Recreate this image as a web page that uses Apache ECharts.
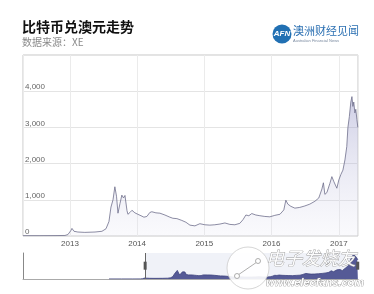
<!DOCTYPE html>
<html><head><meta charset="utf-8">
<script src="https://cdn.jsdelivr.net/npm/echarts@6/dist/echarts.min.js"></script>
<style>html,body{margin:0;padding:0;background:#fff}#c{width:374px;height:294px}</style>
</head><body><div id="c"></div>
<script>
var titleText = '比特币兑澳元走势';
var sourceText = '数据来源：XE';
var dates = ['2012-04-21','2012-07-22','2012-10-12','2012-12-05','2012-12-21','2013-01-06','2013-01-12','2013-01-23','2013-02-13','2013-03-23','2013-05-17','2013-06-24','2013-07-16','2013-08-01','2013-08-12','2013-08-23','2013-09-02','2013-09-11','2013-09-19','2013-09-30','2013-10-10','2013-10-19','2013-10-27','2013-11-07','2013-11-12','2013-11-23','2013-12-04','2013-12-20','2014-01-05','2014-01-22','2014-02-07','2014-02-23','2014-03-11','2014-03-22','2014-04-13','2014-05-05','2014-06-01','2014-06-28','2014-07-14','2014-08-05','2014-09-01','2014-09-23','2014-10-15','2014-11-11','2014-12-08','2015-01-04','2015-01-31','2015-02-27','2015-03-27','2015-04-23','2015-05-20','2015-06-16','2015-07-13','2015-07-30','2015-08-15','2015-08-31','2015-09-16','2015-10-08','2015-10-30','2015-11-26','2015-12-23','2016-01-19','2016-02-16','2016-03-08','2016-03-19','2016-03-30','2016-04-15','2016-05-07','2016-06-03','2016-06-30','2016-07-27','2016-08-24','2016-09-14','2016-10-01','2016-10-09','2016-10-17','2016-10-28','2016-11-13','2016-11-24','2016-12-05','2016-12-21','2017-01-01','2017-01-12','2017-01-23','2017-02-03','2017-02-13','2017-02-19','2017-02-27','2017-03-07','2017-03-13','2017-03-18','2017-03-23','2017-03-29','2017-04-03','2017-04-09','2017-04-14'];
var prices = [10,10,12,15,40,150,210,130,110,100,110,130,200,400,800,1000,1360,1100,630,900,1130,1050,1120,700,600,650,710,640,600,560,520,540,650,670,640,630,580,520,490,480,430,380,300,280,340,310,300,310,330,360,320,310,350,450,580,560,620,580,560,540,530,570,600,720,990,880,820,770,790,830,880,960,1050,1300,1470,1150,1200,1450,1640,1500,1320,1550,1700,1820,2100,2470,2990,3300,3700,3850,3580,3700,3400,3500,3220,3000];
var yTicks = [0,1000,2000,3000,4000,5000];
var navStart = '2013-01-10', navEnd = '2017-04-13';

var data = dates.map(function(d,i){return [d, prices[i]];});
var chart = echarts.init(document.getElementById('c'));
chart.setOption({
  animation:false,
  backgroundColor:'#fff',
  title:[
    {text:titleText,left:17,top:15,textStyle:{fontFamily:'Noto Sans CJK SC',fontWeight:'bold',fontSize:14,color:'#111'}},
    {text:sourceText,left:17,top:32,textStyle:{fontFamily:'Noto Sans CJK SC',fontWeight:'normal',fontSize:10,color:'#8a8a8a'}}
  ],
  grid:[
    {left:23,right:16,top:55,bottom:58,show:true,borderColor:'#c6c6c6',borderWidth:1},
    {left:23,right:16,top:253,height:26}
  ],
  xAxis:[
    {type:'time',gridIndex:0,min:'2012-04-21',max:'2017-04-15',minInterval:365*86400000,
     axisLine:{show:false},axisTick:{show:false},
     axisLabel:{formatter:'{yyyy}',fontSize:8,color:'#555',margin:4,fontFamily:'Arial'},
     splitLine:{show:true,lineStyle:{color:'#ebebeb'}}},
    {type:'time',gridIndex:1,min:'2010-08-01',max:'2017-04-15',
     axisLine:{show:true,lineStyle:{color:'#aaa'}},axisTick:{show:false},axisLabel:{show:false},splitLine:{show:false}}
  ],
  yAxis:[
    {type:'value',gridIndex:0,min:0,max:5000,interval:1000,
     axisLine:{show:false},axisTick:{show:false},
     axisLabel:{inside:true,verticalAlign:'bottom',margin:2,fontSize:8,color:'#666',fontFamily:'Arial',showMaxLabel:false,
       formatter:function(v){return v.toLocaleString('en-US');}},
     splitLine:{lineStyle:{color:'#e4e4e4'}}},
    {type:'value',gridIndex:1,min:0,max:4100,
     axisLine:{show:true,lineStyle:{color:'#888'}},axisTick:{show:false},axisLabel:{show:false},splitLine:{show:false}}
  ],
  series:[
    {type:'line',xAxisIndex:0,yAxisIndex:0,data:data,symbol:'none',
     lineStyle:{color:'#6e6e8c',width:0.8},
     areaStyle:{color:new echarts.graphic.LinearGradient(0,0,0,1,[{offset:0,color:'rgba(130,130,190,0.55)'},{offset:1,color:'rgba(225,225,240,0.25)'}])}},
    {type:'line',xAxisIndex:1,yAxisIndex:1,data:data,symbol:'none',
     lineStyle:{color:'#3d427c',width:0.8},
     areaStyle:{color:'#555a96',opacity:1},
     markArea:{silent:true,itemStyle:{color:'rgba(205,212,232,0.3)'},data:[[{xAxis:navStart},{xAxis:navEnd}]]},
     markLine:{silent:true,symbol:'none',label:{show:false},lineStyle:{color:'#666',width:1,type:'solid'},data:[{xAxis:navStart}]},
     markPoint:{silent:true,symbol:'rect',symbolSize:[3,8],itemStyle:{color:'#555'},label:{show:false},
       data:[{coord:[navStart,2100]},{coord:[navEnd,2100]}]}}
  ],
  graphic:[
    {type:'circle',shape:{cx:282,cy:34,r:9.5},style:{fill:'#2170b3'}},
    {type:'text',style:{text:'AFN',x:282,y:34,align:'center',verticalAlign:'middle',fill:'#fff',font:'italic bold 8px Arial'}},
    {type:'text',style:{text:'澳洲财经见闻',x:293,y:31,verticalAlign:'middle',fill:'#2a6fb2',font:'11px "Noto Sans CJK SC"'}},
    {type:'text',style:{text:'Australian Financial News',x:293,y:41,verticalAlign:'middle',fill:'#7a8aa0',font:'4px Arial'}},
    {type:'circle',z:100,shape:{cx:248,cy:268,r:21},style:{fill:'rgba(255,255,255,0.9)',stroke:'#ccc',lineWidth:0.8}},
    {type:'polyline',z:101,shape:{points:[[238,275],[257,262]]},style:{stroke:'#999',lineWidth:0.8,fill:null}},
    {type:'circle',z:101,shape:{cx:237,cy:276,r:2.5},style:{fill:'#fff',stroke:'#999',lineWidth:0.8}},
    {type:'circle',z:101,shape:{cx:258,cy:261,r:2.5},style:{fill:'#fff',stroke:'#999',lineWidth:0.8}},
    {type:'text',z:101,style:{text:'电子发烧友',x:266,y:258,verticalAlign:'middle',fill:'rgba(255,255,255,0.95)',stroke:'#9a9a9a',lineWidth:0.8,font:'italic 18px "Noto Sans CJK SC"'}},
    {type:'text',z:101,style:{text:'www.elecfans.com',x:266,y:283,verticalAlign:'middle',fill:'rgba(255,255,255,0.95)',stroke:'#8a8a8a',lineWidth:0.7,font:'italic bold 11px Arial'}}
  ]
});
</script></body></html>
